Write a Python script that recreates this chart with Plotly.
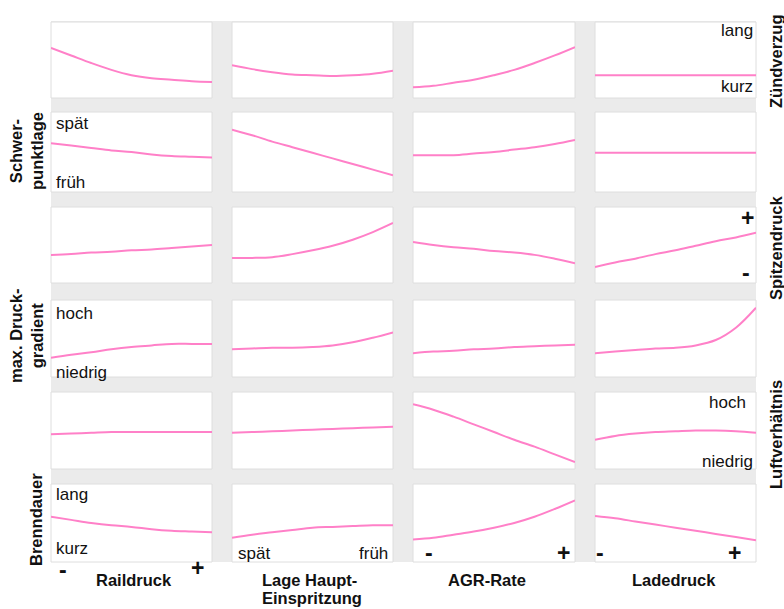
import plotly.graph_objects as go

# Sample positions along each parameter axis (0 = "-", 1 = "+")
xs = [0.0, 0.125, 0.25, 0.375, 0.5, 0.625, 0.75, 0.875, 1.0]

# Input parameters (columns) and combustion quantities (rows)
params = ["Raildruck", "Lage Haupt-<br>Einspritzung", "AGR-Rate", "Ladedruck"]
quantities = ["Zündverzug", "Schwerpunktlage", "Spitzendruck",
              "max. Druckgradient", "Luftverhältnis", "Brenndauer"]

# Relative trend of each quantity (0 = bottom, 1 = top of a panel), one list per parameter
zuendverzug = [[0.66, 0.56, 0.46, 0.37, 0.30, 0.26, 0.24, 0.22, 0.21],
               [0.43, 0.38, 0.34, 0.31, 0.30, 0.29, 0.30, 0.32, 0.36],
               [0.14, 0.16, 0.20, 0.24, 0.30, 0.37, 0.46, 0.56, 0.67],
               [0.30, 0.30, 0.30, 0.30, 0.30, 0.30, 0.30, 0.30, 0.30]]
schwerpunktlage = [[0.61, 0.58, 0.55, 0.52, 0.50, 0.47, 0.45, 0.44, 0.43],
                   [0.78, 0.71, 0.63, 0.56, 0.49, 0.42, 0.35, 0.28, 0.21],
                   [0.46, 0.46, 0.46, 0.48, 0.50, 0.53, 0.56, 0.60, 0.65],
                   [0.49, 0.49, 0.49, 0.49, 0.49, 0.49, 0.49, 0.49, 0.49]]
spitzendruck = [[0.37, 0.38, 0.40, 0.41, 0.43, 0.44, 0.46, 0.48, 0.50],
                [0.33, 0.33, 0.34, 0.38, 0.43, 0.49, 0.57, 0.67, 0.79],
                [0.54, 0.50, 0.47, 0.45, 0.42, 0.40, 0.37, 0.32, 0.26],
                [0.21, 0.27, 0.32, 0.38, 0.43, 0.49, 0.55, 0.60, 0.66]]
druckgradient = [[0.25, 0.29, 0.32, 0.36, 0.39, 0.41, 0.43, 0.43, 0.43],
                 [0.36, 0.37, 0.38, 0.38, 0.39, 0.41, 0.45, 0.51, 0.58],
                 [0.31, 0.33, 0.34, 0.36, 0.37, 0.39, 0.40, 0.41, 0.42],
                 [0.31, 0.33, 0.35, 0.37, 0.38, 0.41, 0.48, 0.64, 0.90]]
luftverhaeltnis = [[0.45, 0.46, 0.47, 0.48, 0.48, 0.48, 0.48, 0.48, 0.48],
                   [0.47, 0.48, 0.49, 0.50, 0.51, 0.52, 0.53, 0.54, 0.55],
                   [0.84, 0.77, 0.68, 0.58, 0.48, 0.38, 0.29, 0.19, 0.09],
                   [0.38, 0.43, 0.46, 0.48, 0.49, 0.50, 0.50, 0.49, 0.47]]
brenndauer = [[0.58, 0.54, 0.50, 0.47, 0.45, 0.42, 0.40, 0.39, 0.38],
              [0.31, 0.35, 0.38, 0.41, 0.44, 0.45, 0.46, 0.47, 0.47],
              [0.29, 0.31, 0.35, 0.39, 0.44, 0.50, 0.58, 0.68, 0.79],
              [0.59, 0.56, 0.52, 0.48, 0.44, 0.40, 0.36, 0.32, 0.28]]

trends = [zuendverzug, schwerpunktlage, spitzendruck,
          druckgradient, luftverhaeltnis, brenndauer]

# ---- layout geometry (pixels) ----
W, H = 784, 609
col_px = [(51, 212), (232, 393), (413, 575), (595, 756)]
row_px = [(22, 98), (112, 192), (207, 283), (300, 377), (392, 469), (484, 562)]
grid_box = (51, 21, 756, 562)

LINE = "#ff80c8"
BAND = "#ebebeb"
FONT = "Liberation Sans, Arial, sans-serif"


def fx(x):
    return x / W


def fy(y):
    return 1 - y / H


fig = go.Figure()
layout = dict(
    width=W, height=H,
    margin=dict(l=0, r=0, t=0, b=0),
    paper_bgcolor="white", plot_bgcolor="white",
    showlegend=False,
    font=dict(family=FONT, color="#111111"),
)

shapes = [dict(type="rect", xref="paper", yref="paper",
               x0=fx(grid_box[0]), x1=fx(grid_box[2]),
               y0=fy(grid_box[3]), y1=fy(grid_box[1]),
               fillcolor=BAND, line=dict(width=0), layer="below")]

k = 0
for r, (y0, y1) in enumerate(row_px):
    for c, (x0, x1) in enumerate(col_px):
        k += 1
        sfx = "" if k == 1 else str(k)
        layout["xaxis" + sfx] = dict(domain=[fx(x0), fx(x1)], range=[0, 1],
                                     visible=False, fixedrange=True,
                                     anchor="y" + sfx)
        layout["yaxis" + sfx] = dict(domain=[fy(y1), fy(y0)], range=[0, 1],
                                     visible=False, fixedrange=True,
                                     anchor="x" + sfx)
        shapes.append(dict(type="rect", xref="paper", yref="paper",
                           x0=fx(x0), x1=fx(x1), y0=fy(y1), y1=fy(y0),
                           fillcolor="white",
                           line=dict(color="#dedede", width=1),
                           layer="below"))
        fig.add_trace(go.Scatter(
            x=xs, y=trends[r][c], mode="lines",
            line=dict(color=LINE, width=2, shape="spline", smoothing=1.0),
            xaxis="x" + sfx, yaxis="y" + sfx, hoverinfo="skip"))

layout["shapes"] = shapes

ann = []


def text(x, y, s, size=17, bold=False, angle=0, xanchor="center", align="center"):
    ann.append(dict(x=fx(x), y=fy(y), xref="paper", yref="paper", text=s,
                    showarrow=False, textangle=angle, xanchor=xanchor,
                    yanchor="middle", align=align,
                    font=dict(family=FONT, size=size, color="#111111",
                              weight="bold" if bold else "normal")))


# row titles, left side
text(26, 151, "Schwer-<br>punktlage", 16.5, True, -90)
text(26, 336, "max. Druck-<br>gradient", 16.5, True, -90)
text(36, 520, quantities[5], 16.5, True, -90)
# row titles, right side
text(776, 61, quantities[0], 16.5, True, -90)
text(776, 248, quantities[2], 16.5, True, -90)
text(776, 435, quantities[4], 16.5, True, -90)

# column titles (the two-line title is set line by line for tighter spacing)
text(134, 580, params[0], 16.5, True)
line1, line2 = params[1].split("<br>")
text(260, 580, line1, 16.5, True, xanchor="left")
text(260, 598, line2, 16.5, True, xanchor="left")
text(487, 580, params[2], 16.5, True)
text(674, 580, params[3], 16.5, True)

# direction labels inside the panels
text(737, 30, "lang")
text(737, 87, "kurz")
text(54, 124, "spät", xanchor="left")
text(54, 183, "früh", xanchor="left")
text(747, 218, "+", 23, True)
text(746, 273, "-", 23, True)
text(54, 313, "hoch", xanchor="left")
text(54, 372, "niedrig", xanchor="left")
text(727, 402, "hoch")
text(727, 461, "niedrig")
text(54, 494, "lang", xanchor="left")
text(54, 548, "kurz", xanchor="left")
text(236, 553, "spät", xanchor="left")
text(390, 553, "früh", xanchor="right")

# parameter directions along the bottom row
text(63, 570, "-", 23, True)
text(197, 568, "+", 23, True)
text(429, 553, "-", 23, True)
text(563, 553, "+", 23, True)
text(600, 553, "-", 23, True)
text(734, 553, "+", 23, True)

layout["annotations"] = ann
fig.update_layout(**layout)
fig.write_html("out.html")
